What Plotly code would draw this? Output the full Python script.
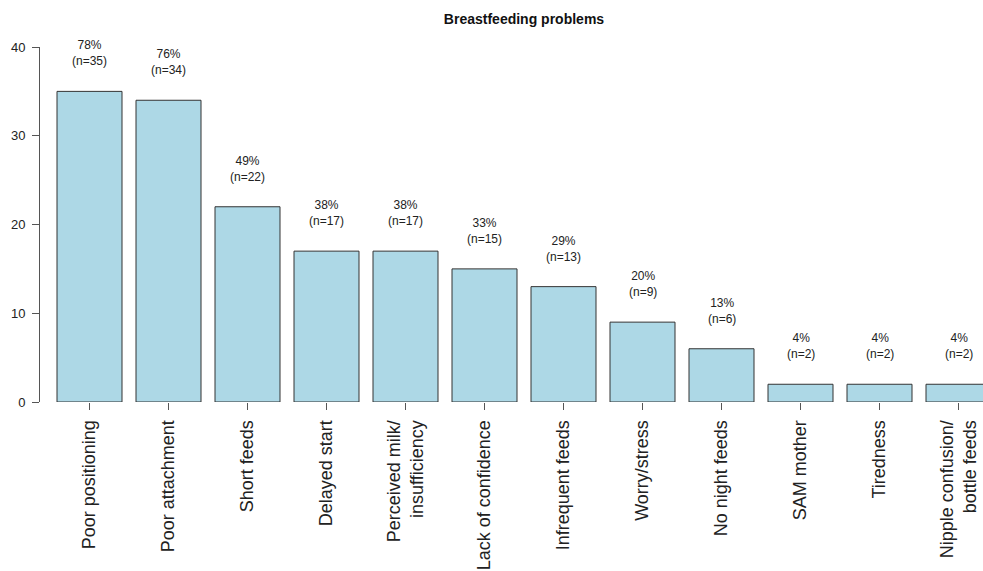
import plotly.graph_objects as go

categories = ["Poor positioning", "Poor attachment", "Short feeds", "Delayed start",
              "Perceived milk/<br>insufficiency", "Lack of confidence", "Infrequent feeds",
              "Worry/stress", "No night feeds", "SAM mother", "Tiredness",
              "Nipple confusion/<br>bottle feeds"]
counts = [35, 34, 22, 17, 17, 15, 13, 9, 6, 2, 2, 2]
percents = [78, 76, 49, 38, 38, 33, 29, 20, 13, 4, 4, 4]
y_ticks = [0, 10, 20, 30, 40]

W, H = 983, 571
FONT = "Liberation Sans, Arial, sans-serif"
TXT = "#222222"

x_idx = list(range(len(categories)))

fig = go.Figure()
fig.add_trace(go.Bar(
    x=x_idx, y=counts, width=65 / 79,
    marker=dict(color="#ADD8E6", line=dict(color="#333333", width=1)),
    hoverinfo="skip",
))

for i, (c, p) in enumerate(zip(counts, percents)):
    fig.add_annotation(
        x=i, y=c, xref="x", yref="y",
        text=f"{p}%<br>(n={c})", showarrow=False,
        yanchor="bottom", yshift=21,
        font=dict(family=FONT, size=12, color=TXT),
    )

y0_px, y40_px = 402, 47
fig.update_layout(
    width=W, height=H,
    margin=dict(l=0, r=0, t=0, b=0),
    paper_bgcolor="white", plot_bgcolor="white",
    showlegend=False,
    font=dict(family=FONT, color=TXT),
    title=dict(text="<b>Breastfeeding problems</b>", x=524 / W, xanchor="center",
               y=1 - 19 / H, yanchor="middle", xref="paper", yref="paper",
               font=dict(family=FONT, size=14, color="#111111")),
    xaxis=dict(
        range=[-89.5 / 79, (W - 89.5) / 79],
        domain=[0, 1],
        tickmode="array", tickvals=x_idx, ticktext=categories,
        tickangle=-90, ticks="outside", ticklen=7, tickcolor="#555555",
        ticklabelstandoff=3,
        showline=False, showgrid=False, zeroline=False,
        tickfont=dict(family=FONT, size=18, color=TXT),
        automargin=False,
    ),
    yaxis=dict(
        range=[0, 40],
        domain=[(H - y0_px) / H, (H - y40_px) / H],
        anchor="free", position=39 / W,
        tickmode="array", tickvals=y_ticks,
        ticks="outside", ticklen=7, tickcolor="#555555",
        ticklabelstandoff=4,
        showline=True, linecolor="#555555", linewidth=1,
        showgrid=False, zeroline=False,
        tickfont=dict(family=FONT, size=13, color=TXT),
        automargin=False,
    ),
    bargap=0,
)

fig.write_html("out.html",
               config={"displayModeBar": False, "staticPlot": True},
               post_script="document.body.style.margin='0';document.body.style.overflow='hidden';")
